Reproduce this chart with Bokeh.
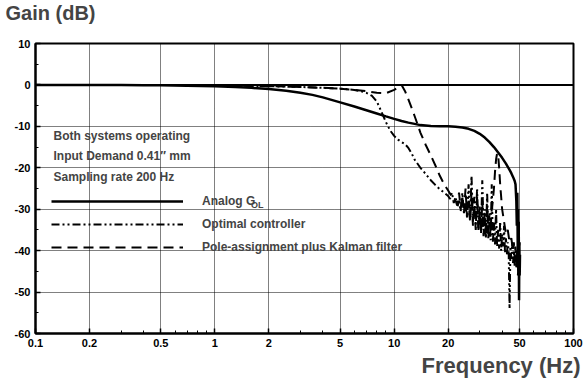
from bokeh.plotting import figure
from bokeh.models import FixedTicker, Span, Legend, LegendItem, Label, Title
from bokeh.embed import file_html
from bokeh.resources import INLINE

# ---- data -------------------------------------------------------------
# Analog G_OL (solid)
f_analog = [0.1, 0.2, 0.3, 0.4, 0.5, 0.7, 1, 1.3, 1.6, 2, 2.5, 3, 3.5, 4, 5, 6, 7, 8, 9,
            10, 11, 12, 13, 14, 16, 18, 20, 22, 24, 26, 28, 30, 32, 34, 36, 38, 40, 42,
            44, 45, 46, 47, 47.5, 48, 48.3, 48.6, 48.9, 49.1, 49.3, 49.5, 49.7, 49.9,
            50.1, 50.3]
g_analog = [0, 0, 0, -0.1, -0.1, -0.2, -0.3, -0.5, -0.7, -1.0, -1.4, -1.9, -2.4, -3.0,
            -4.2, -5.2, -6.1, -6.9, -7.6, -8.2, -8.7, -9.1, -9.4, -9.7, -9.9, -10.0,
            -10.0, -10.1, -10.3, -10.6, -11.1, -11.8, -12.7, -13.8, -15.0, -16.3, -17.6,
            -19.0, -20.5, -21.3, -22.2, -23.2, -24, -28, -34, -26, -40, -30, -45, -33,
            -52, -38, -46, -41]

# Optimal controller (dash-dot-dot)
f_optimal = [0.1, 0.5, 1, 2, 3, 4, 5, 6, 6.5, 7, 7.5, 8, 8.5, 9, 9.5, 10, 10.5, 11, 11.5,
             12, 12.5, 13, 14, 15, 16, 17, 18, 19, 20, 20.5, 21, 21.5, 22, 22.5, 23,
             23.5, 24, 24.5, 25, 25.5, 26, 26.5, 27, 27.5, 28, 28.5, 29, 29.5, 30, 30.5,
             31, 31.5, 32, 32.5, 33, 33.5, 34, 34.5, 35, 35.5, 36, 36.5, 37, 37.5, 38,
             38.5, 39, 39.5, 40, 40.5, 41, 41.5, 42, 42.5, 43, 43.5, 44, 44.5, 45, 45.5,
             46, 46.5, 47, 47.5, 48]
g_optimal = [0, 0, -0.1, -0.3, -0.5, -0.7, -0.9, -1.2, -1.5, -1.9, -2.6, -4.0, -6.5,
             -9.0, -11, -12.3, -13.2, -13.8, -14.3, -15.2, -16.5, -18, -20, -21.5, -23,
             -24.2, -25.2, -26, -26.8, -27.5, -26, -28.5, -27, -29.5, -28, -30.5, -26,
             -31, -29, -32, -24, -32.5, -22, -33, -27, -34, -25, -34.5, -29, -35.5, -23,
             -35, -30, -36.5, -26, -37, -31, -37.5, -24, -38, -33, -38.5, -30, -39, -35,
             -39.5, -33, -40, -36, -39, -34, -40.5, -37, -41, -38, -40, -54, -39, -42,
             -38, -43, -40, -44, -41, -43]

# Pole-assignment plus Kalman filter (dashed)
f_pole = [0.1, 0.5, 1, 2, 3, 4, 5, 6, 7, 8, 9, 10, 10.5, 11, 11.5, 12, 12.5, 13, 13.5,
          14, 15, 16, 17, 18, 19, 20, 21, 22, 22.5, 23, 23.5, 24, 24.5, 25, 25.5, 26,
          26.5, 27, 27.5, 28, 28.5, 29, 29.5, 30, 30.5, 31, 31.5, 32, 32.5, 33, 33.5,
          34, 34.5, 35, 35.5, 36, 36.5, 37, 37.5, 38, 38.5, 39, 39.5, 40, 41, 42, 43,
          44, 45, 46, 46.5, 47, 47.5, 48, 48.5, 49, 49.5, 50]
g_pole = [0, 0, -0.1, -0.3, -0.5, -0.7, -0.9, -1.2, -1.5, -1.9, -2.0, -1.2, -0.6, 0,
          -1.5, -3.5, -5.5, -7.5, -9.5, -11.5, -14.5, -17, -19.5, -22, -24, -25.5, -27,
          -28, -29, -26, -30, -27, -31, -25, -32, -28, -33, -26, -34, -29, -35, -27,
          -35, -31, -36, -28, -36.5, -32, -37, -29, -36, -33, -35, -30, -28, -25, -21,
          -18, -16.5, -17, -20, -24, -27, -30, -33, -36, -35, -38, -37, -40, -38, -42,
          -39, -44, -40, -46, -41, -38]

x_ticks = [0.1, 0.2, 0.5, 1, 2, 5, 10, 20, 50, 100]
x_tick_labels = ["0.1", "0.2", "0.5", "1", "2", "5", "10", "20", "50", "100"]
x_minor = [0.3, 0.4, 0.6, 0.7, 0.8, 0.9, 3, 4, 6, 7, 8, 9, 30, 40, 60, 70, 80, 90]
y_ticks = [10, 0, -10, -20, -30, -40, -50, -60]
y_tick_labels = ["10", "0", "-10", "-20", "-30", "-40", "-50", "-60"]
y_minor = [5, -5, -15, -25, -35, -45, -55]

FONT = "Liberation Sans"

# ---- figure -----------------------------------------------------------
p = figure(width=587, height=383, x_axis_type="log", x_range=(0.1, 100),
           y_range=(-60, 10), output_backend="svg", toolbar_location=None,
           min_border_left=35, min_border_right=14, min_border_top=43,
           min_border_bottom=50)
p.outline_line_color = "black"
p.outline_line_width = 2
p.background_fill_color = "white"

# y-axis caption sits in the top-left corner; the empty second line keeps it
# clear of the frame
p.title.text = "Gain (dB)\n "
p.title.text_font = FONT
p.title.text_font_style = "bold"
p.title.text_font_size = "20px"
p.title.text_line_height = 0.8
p.title.align = "left"
p.title.vertical_align = "top"
p.title.offset = -30
p.title.standoff = 0

p.add_layout(Title(text="Frequency (Hz)", align="right", text_font=FONT,
                   text_font_style="bold", text_font_size="22px", offset=-7,
                   standoff=2),
             "below")

# axes
p.xaxis.ticker = FixedTicker(ticks=x_ticks, minor_ticks=x_minor)
p.xaxis.major_label_overrides = {t: s for t, s in zip(x_ticks, x_tick_labels)}
p.yaxis.ticker = FixedTicker(ticks=y_ticks, minor_ticks=y_minor)
p.yaxis.major_label_overrides = {t: s for t, s in zip(y_ticks, y_tick_labels)}
for ax in (p.xaxis, p.yaxis):
    ax.axis_line_width = 2
    ax.axis_line_color = "black"
    ax.major_tick_in = 5
    ax.major_tick_out = 0
    ax.minor_tick_in = 3
    ax.minor_tick_out = 0
    ax.major_tick_line_width = 1.5
    ax.major_tick_line_color = "black"
    ax.minor_tick_line_color = "black"
    ax.major_label_text_font = FONT
    ax.major_label_text_font_style = "bold"
    ax.major_label_text_font_size = "11px"
    ax.major_label_text_color = "black"
    ax.major_label_standoff = 5

# dotted grid
p.xgrid.ticker = FixedTicker(ticks=[0.2, 0.5, 1, 2, 5, 10, 20, 50])
p.ygrid.ticker = FixedTicker(ticks=[-10, -20, -30, -40, -50])
for g in (p.xgrid, p.ygrid):
    g.grid_line_color = "black"
    g.grid_line_dash = "1 1"
    g.grid_line_width = 1
    g.grid_line_alpha = 1

p.add_layout(Span(location=0, dimension="width", line_color="black", line_width=2))

# ---- curves -----------------------------------------------------------
r_an = p.line(f_analog, g_analog, line_color="black", line_width=2.5)
r_opt = p.line(f_optimal, g_optimal, line_color="black", line_width=2,
               line_dash="8 3 2 3 2 3")
r_pole = p.line(f_pole, g_pole, line_color="black", line_width=2,
                line_dash="10 6")

legend = Legend(items=[LegendItem(label="Analog G", renderers=[r_an]),
                       LegendItem(label="Optimal controller", renderers=[r_opt]),
                       LegendItem(label="Pole-assignment plus Kalman filter",
                                  renderers=[r_pole])],
                location=(16, 76), glyph_width=132, glyph_height=20, spacing=3,
                padding=0, margin=0, label_standoff=19,
                label_text_font=FONT, label_text_font_style="bold",
                label_text_font_size="12px", background_fill_alpha=0,
                border_line_alpha=0)
p.add_layout(legend, "center")

# subscript of G_OL
p.add_layout(Label(x=1.59, y=-28.9, text="OL", text_font=FONT,
                   text_font_style="bold", text_font_size="9px",
                   text_baseline="middle"))

# operating conditions
notes = ["Both systems operating", "Input Demand 0.41\u2033  mm",
         "Sampling rate 200 Hz"]
for txt, yy in zip(notes, [-12.4, -17.2, -22.3]):
    p.add_layout(Label(x=0.126, y=yy, text=txt, text_font=FONT,
                       text_font_style="bold", text_font_size="12px",
                       text_baseline="middle"))

open("out.html", "w").write(file_html(p, INLINE))
